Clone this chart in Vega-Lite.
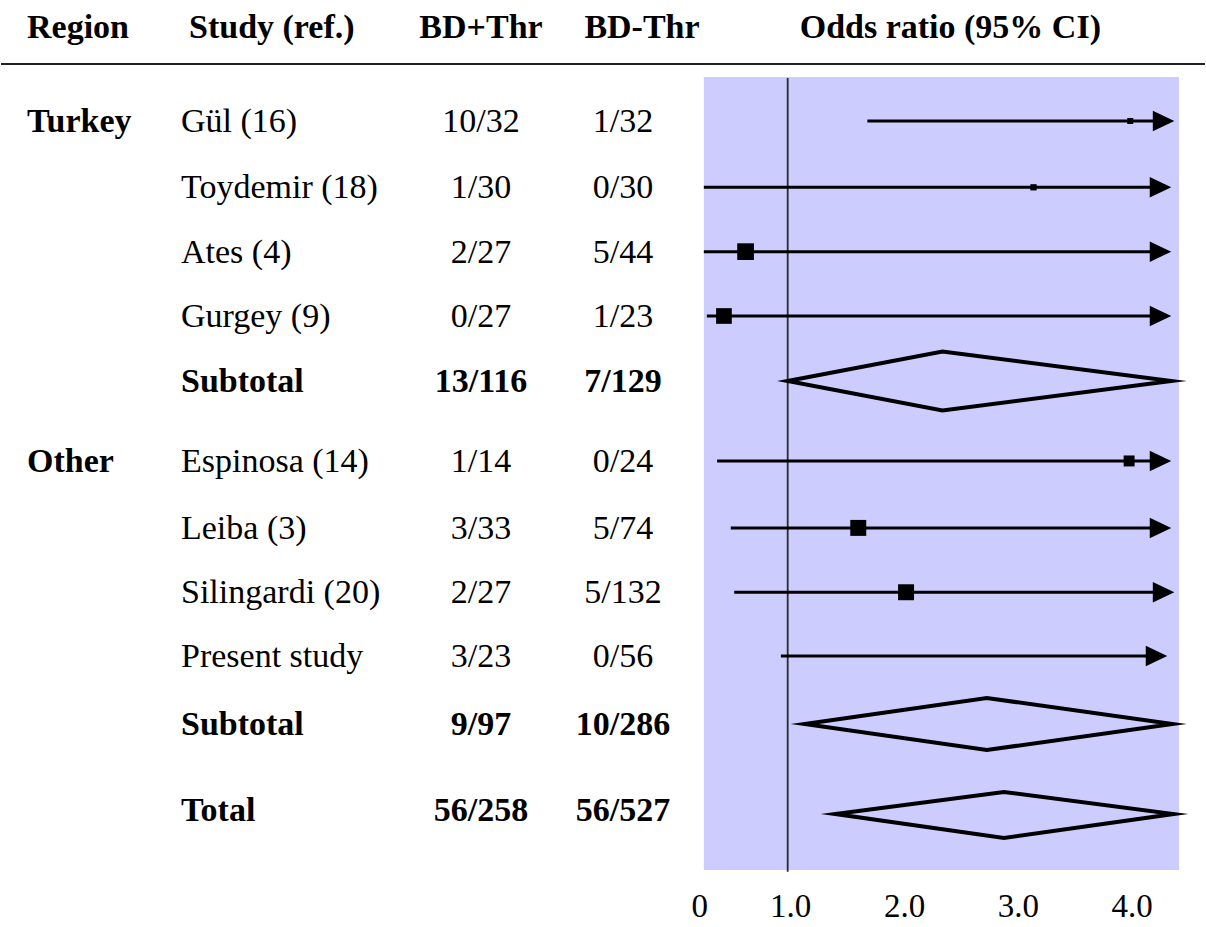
{
  "$schema": "https://vega.github.io/schema/vega-lite/v6.json",
  "width": 1206,
  "height": 927,
  "autosize": {"type": "fit", "contains": "padding"},
  "padding": 0,
  "background": "white",
  "config": {
    "view": {"stroke": null},
    "text": {"font": "Liberation Serif", "fontSize": 34, "color": "black"}
  },
  "datasets": {
    "headers": [
      {"col": "Region", "label": "Region"},
      {"col": "Study (ref.)", "label": "Study (ref.)"},
      {"col": "BD+Thr", "label": "BD+Thr"},
      {"col": "BD-Thr", "label": "BD-Thr"}
    ],
    "rows": [
      {"row": 1, "region": "Turkey", "study": "Gül (16)", "plus": "10/32", "minus": "1/32", "kind": "study", "lo": 1.70, "or": 4.01, "hi": 4.395, "w": 1.2},
      {"row": 2.02, "study": "Toydemir (18)", "plus": "1/30", "minus": "0/30", "kind": "study", "lo": 0.2632, "or": 3.16, "hi": 4.368, "w": 1.3},
      {"row": 3.01, "study": "Ates (4)", "plus": "2/27", "minus": "5/44", "kind": "study", "lo": 0.2632, "or": 0.63, "hi": 4.368, "w": 9.3},
      {"row": 4, "study": "Gurgey (9)", "plus": "0/27", "minus": "1/23", "kind": "study", "lo": 0.29, "or": 0.44, "hi": 4.368, "w": 8.2},
      {"row": 5, "study": "Subtotal", "plus": "13/116", "minus": "7/129", "kind": "summary"},
      {"row": 6.23, "region": "Other", "study": "Espinosa (14)", "plus": "1/14", "minus": "0/24", "kind": "study", "lo": 0.38, "or": 4.0, "hi": 4.368, "w": 4.0},
      {"row": 7.26, "study": "Leiba (3)", "plus": "3/33", "minus": "5/74", "kind": "study", "lo": 0.50, "or": 1.62, "hi": 4.368, "w": 8.5},
      {"row": 8.25, "study": "Silingardi (20)", "plus": "2/27", "minus": "5/132", "kind": "study", "lo": 0.53, "or": 2.04, "hi": 4.395, "w": 8.5},
      {"row": 9.23, "study": "Present study", "plus": "3/23", "minus": "0/56", "kind": "study", "lo": 0.94, "or": 3.94, "hi": 4.333, "w": 0.1},
      {"row": 10.27, "study": "Subtotal", "plus": "9/97", "minus": "10/286", "kind": "summary"},
      {"row": 11.6, "study": "Total", "plus": "56/258", "minus": "56/527", "kind": "summary"}
    ],
    "diamonds": [
      {"d": "Turkey", "x": 1.0, "top": 5.0, "bot": 5.0},
      {"d": "Turkey", "x": 2.36, "top": 4.546, "bot": 5.454},
      {"d": "Turkey", "x": 4.37, "top": 5.0, "bot": 5.0},
      {"d": "Other", "x": 1.15, "top": 10.277, "bot": 10.277},
      {"d": "Other", "x": 2.75, "top": 9.877, "bot": 10.677},
      {"d": "Other", "x": 4.38, "top": 10.277, "bot": 10.277},
      {"d": "Total", "x": 1.42, "top": 11.662, "bot": 11.662},
      {"d": "Total", "x": 2.90, "top": 11.323, "bot": 12.031},
      {"d": "Total", "x": 4.39, "top": 11.662, "bot": 11.662}
    ],
    "ticks": [{"v": 1}, {"v": 2}, {"v": 3}, {"v": 4}]
  },
  "layer": [
    {
      "layer": [
        {
          "data": {"name": "headers"},
          "transform": [{"filter": "datum.col == 'Region'"}],
          "mark": {"type": "rule", "color": "#222222", "strokeWidth": 2},
          "encoding": {
            "y": {"datum": 0.123, "type": "quantitative", "scale": {"domain": [-0.8615, 13.4], "nice": false, "zero": false, "reverse": true}, "axis": null}
          }
        },
        {
          "data": {"name": "headers"},
          "transform": [{"filter": "datum.col == 'Region'"}],
          "mark": {"type": "text", "align": "left", "baseline": "alphabetic", "dy": 11, "fontWeight": "bold"},
          "encoding": {
            "x": {"field": "col", "type": "nominal", "scale": {"type": "point", "domain": ["Region", "Study (ref.)", "spacer", "BD+Thr", "BD-Thr"], "range": [26, 622], "padding": 0}, "axis": null},
            "y": {"datum": -0.45, "type": "quantitative", "axis": null},
            "text": {"field": "label"}
          }
        },
        {
          "data": {"name": "headers"},
          "transform": [{"filter": "datum.col == 'Study (ref.)'"}],
          "mark": {"type": "text", "align": "left", "baseline": "alphabetic", "dy": 11, "dx": 13, "fontWeight": "bold"},
          "encoding": {
            "x": {"field": "col", "type": "nominal", "axis": null},
            "y": {"datum": -0.45, "type": "quantitative", "axis": null},
            "text": {"field": "label"}
          }
        },
        {
          "data": {"name": "headers"},
          "transform": [{"filter": "datum.col == 'BD+Thr'"}],
          "mark": {"type": "text", "align": "center", "baseline": "alphabetic", "dy": 11, "dx": 7, "fontWeight": "bold"},
          "encoding": {
            "x": {"field": "col", "type": "nominal", "axis": null},
            "y": {"datum": -0.45, "type": "quantitative", "axis": null},
            "text": {"field": "label"}
          }
        },
        {
          "data": {"name": "headers"},
          "transform": [{"filter": "datum.col == 'BD-Thr'"}],
          "mark": {"type": "text", "align": "center", "baseline": "alphabetic", "dy": 11, "dx": 19, "fontWeight": "bold"},
          "encoding": {
            "x": {"field": "col", "type": "nominal", "axis": null},
            "y": {"datum": -0.45, "type": "quantitative", "axis": null},
            "text": {"field": "label"}
          }
        },
        {
          "data": {"name": "rows"},
          "transform": [{"filter": "isValid(datum.region)"}],
          "mark": {"type": "text", "align": "left", "baseline": "alphabetic", "dy": 11, "fontWeight": "bold"},
          "encoding": {
            "x": {"datum": "Region", "type": "nominal", "axis": null},
            "y": {"field": "row", "type": "quantitative", "axis": null},
            "text": {"field": "region"}
          }
        },
        {
          "data": {"name": "rows"},
          "transform": [{"filter": "datum.kind == 'study'"}],
          "mark": {"type": "text", "align": "left", "baseline": "alphabetic", "dy": 11, "dx": 5},
          "encoding": {
            "x": {"datum": "Study (ref.)", "type": "nominal", "axis": null},
            "y": {"field": "row", "type": "quantitative", "axis": null},
            "text": {"field": "study"}
          }
        },
        {
          "data": {"name": "rows"},
          "transform": [{"filter": "datum.kind == 'summary'"}],
          "mark": {"type": "text", "align": "left", "baseline": "alphabetic", "dy": 11, "dx": 5, "fontWeight": "bold"},
          "encoding": {
            "x": {"datum": "Study (ref.)", "type": "nominal", "axis": null},
            "y": {"field": "row", "type": "quantitative", "axis": null},
            "text": {"field": "study"}
          }
        },
        {
          "data": {"name": "rows"},
          "transform": [{"filter": "datum.kind == 'study'"}],
          "mark": {"type": "text", "align": "center", "baseline": "alphabetic", "dy": 11, "dx": 7},
          "encoding": {
            "x": {"datum": "BD+Thr", "type": "nominal", "axis": null},
            "y": {"field": "row", "type": "quantitative", "axis": null},
            "text": {"field": "plus"}
          }
        },
        {
          "data": {"name": "rows"},
          "transform": [{"filter": "datum.kind == 'summary'"}],
          "mark": {"type": "text", "align": "center", "baseline": "alphabetic", "dy": 11, "dx": 7, "fontWeight": "bold"},
          "encoding": {
            "x": {"datum": "BD+Thr", "type": "nominal", "axis": null},
            "y": {"field": "row", "type": "quantitative", "axis": null},
            "text": {"field": "plus"}
          }
        },
        {
          "data": {"name": "rows"},
          "transform": [{"filter": "datum.kind == 'study'"}],
          "mark": {"type": "text", "align": "center", "baseline": "alphabetic", "dy": 11},
          "encoding": {
            "x": {"datum": "BD-Thr", "type": "nominal", "axis": null},
            "y": {"field": "row", "type": "quantitative", "axis": null},
            "text": {"field": "minus"}
          }
        },
        {
          "data": {"name": "rows"},
          "transform": [{"filter": "datum.kind == 'summary'"}],
          "mark": {"type": "text", "align": "center", "baseline": "alphabetic", "dy": 11, "fontWeight": "bold"},
          "encoding": {
            "x": {"datum": "BD-Thr", "type": "nominal", "axis": null},
            "y": {"field": "row", "type": "quantitative", "axis": null},
            "text": {"field": "minus"}
          }
        }
      ]
    },
    {
      "layer": [
        {
          "data": {"values": [{}]},
          "mark": {"type": "rect", "color": "#CCCCFF"},
          "encoding": {
            "x": {"datum": 0.2632, "type": "quantitative", "scale": {"domain": [-5.9123, 4.6667], "nice": false, "zero": false}, "axis": null},
            "x2": {"datum": 4.4386},
            "y": {"datum": 0.323, "type": "quantitative", "axis": null},
            "y2": {"datum": 12.523}
          }
        },
        {
          "data": {"values": [{}]},
          "mark": {"type": "rule", "color": "#2a2a2a", "strokeWidth": 1.8},
          "encoding": {
            "x": {"datum": 1, "type": "quantitative", "axis": null},
            "y": {"datum": 0.338, "type": "quantitative", "axis": null},
            "y2": {"datum": 12.55}
          }
        },
        {
          "data": {"name": "rows"},
          "transform": [{"filter": "datum.kind == 'study'"}],
          "mark": {"type": "rule", "color": "black", "strokeWidth": 3, "x2Offset": -12},
          "encoding": {
            "x": {"field": "lo", "type": "quantitative", "axis": null},
            "x2": {"field": "hi"},
            "y": {"field": "row", "type": "quantitative", "axis": null}
          }
        },
        {
          "data": {"name": "rows"},
          "transform": [{"filter": "datum.kind == 'study'"}],
          "mark": {"type": "point", "shape": "M-1.05,-1L1.05,0L-1.05,1Z", "filled": true, "color": "black", "size": 420, "opacity": 1, "xOffset": -10.5},
          "encoding": {
            "x": {"field": "hi", "type": "quantitative", "axis": null},
            "y": {"field": "row", "type": "quantitative", "axis": null}
          }
        },
        {
          "data": {"name": "rows"},
          "transform": [{"filter": "datum.kind == 'study'"}],
          "mark": {"type": "point", "shape": "square", "filled": true, "color": "black", "opacity": 1},
          "encoding": {
            "x": {"field": "or", "type": "quantitative", "axis": null},
            "y": {"field": "row", "type": "quantitative", "axis": null},
            "size": {"field": "w", "type": "quantitative", "scale": {"domain": [0, 10], "range": [0, 300]}, "legend": null}
          }
        },
        {
          "data": {"name": "diamonds"},
          "mark": {"type": "area", "orient": "vertical", "fillOpacity": 0, "stroke": "black", "strokeWidth": 4, "strokeJoin": "miter", "strokeMiterLimit": 10},
          "encoding": {
            "x": {"field": "x", "type": "quantitative", "axis": null},
            "y": {"field": "top", "type": "quantitative", "axis": null},
            "y2": {"field": "bot"},
            "detail": {"field": "d"}
          }
        },
        {
          "data": {"name": "ticks"},
          "mark": {"type": "text", "align": "center", "baseline": "alphabetic", "dy": 11, "dx": 3, "fontSize": 33},
          "encoding": {
            "x": {"field": "v", "type": "quantitative", "axis": null},
            "y": {"datum": 13.08, "type": "quantitative", "axis": null},
            "text": {"field": "v", "format": ".1f"}
          }
        },
        {
          "data": {"values": [{}]},
          "mark": {"type": "text", "align": "center", "baseline": "alphabetic", "dy": 11, "dx": -4, "fontSize": 33},
          "encoding": {
            "x": {"datum": 0.2632, "type": "quantitative", "axis": null},
            "y": {"datum": 13.08, "type": "quantitative", "axis": null},
            "text": {"value": "0"}
          }
        },
        {
          "data": {"values": [{}]},
          "mark": {"type": "text", "align": "center", "baseline": "alphabetic", "dy": 11, "dx": 9, "fontWeight": "bold"},
          "encoding": {
            "x": {"datum": 2.35, "type": "quantitative", "axis": null},
            "y": {"datum": -0.45, "type": "quantitative", "axis": null},
            "text": {"value": "Odds ratio (95% CI)"}
          }
        }
      ]
    }
  ],
  "resolve": {"scale": {"x": "independent"}}
}
